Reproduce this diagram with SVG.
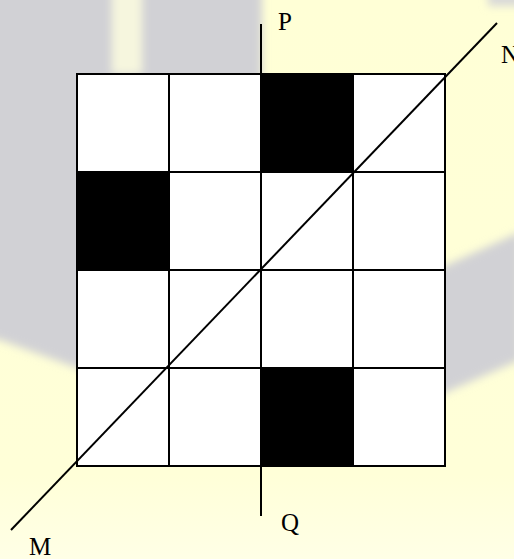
<svg xmlns="http://www.w3.org/2000/svg" width="514" height="559" viewBox="0 0 514 559">
  <defs>
    <style>
      .cell { fill: #ffffff; stroke: #000000; stroke-width: 2; }
      .dark { fill: #000000; stroke: #000000; stroke-width: 2; }
      .ln { stroke: #000000; stroke-width: 2; fill: none; }
      .lbl { font-family: "Liberation Serif", "Times New Roman", serif; font-size: 25px; fill: #000000; }
    </style>
    <filter id="soft" x="-10%" y="-10%" width="120%" height="120%">
      <feGaussianBlur stdDeviation="4"/>
    </filter>
    <linearGradient id="bg" x1="0" y1="0" x2="0" y2="1">
      <stop offset="0" stop-color="#ffffd6"/>
      <stop offset="0.85" stop-color="#ffffd8"/>
      <stop offset="1" stop-color="#ffffe6"/>
    </linearGradient>
  </defs>

  <!-- background -->
  <rect x="0" y="0" width="514" height="559" fill="url(#bg)"/>
  <g id="watermark" filter="url(#soft)">
    <path d="M-10,-10 L262,-10 L262,80 L300,200 L360,230 L440,268 L520,232 L520,360 L447,392 L380,420 L260,430 L150,400 L77,368 L0,340 L-10,338 Z" fill="#d1d1d5"/>
    <rect x="112" y="-10" width="30" height="84" fill="#f6f6de"/>
    <rect x="488" y="-10" width="40" height="16" fill="#d8d8d8"/>
  </g>

  <!-- grid -->
  <g id="grid">
    <rect class="cell" x="77" y="74" width="92" height="98"/>
    <rect class="cell" x="169" y="74" width="92" height="98"/>
    <rect class="dark" x="261" y="74" width="92" height="98"/>
    <rect class="cell" x="353" y="74" width="92" height="98"/>

    <rect class="dark" x="77" y="172" width="92" height="98"/>
    <rect class="cell" x="169" y="172" width="92" height="98"/>
    <rect class="cell" x="261" y="172" width="92" height="98"/>
    <rect class="cell" x="353" y="172" width="92" height="98"/>

    <rect class="cell" x="77" y="270" width="92" height="98"/>
    <rect class="cell" x="169" y="270" width="92" height="98"/>
    <rect class="cell" x="261" y="270" width="92" height="98"/>
    <rect class="cell" x="353" y="270" width="92" height="98"/>

    <rect class="cell" x="77" y="368" width="92" height="98"/>
    <rect class="cell" x="169" y="368" width="92" height="98"/>
    <rect class="dark" x="261" y="368" width="92" height="98"/>
    <rect class="cell" x="353" y="368" width="92" height="98"/>
  </g>

  <!-- axes -->
  <g id="connectors">
    <line class="ln" x1="261" y1="24" x2="261" y2="74"/>
    <line class="ln" x1="261" y1="466" x2="261" y2="516"/>
    <line class="ln" x1="11" y1="530" x2="497" y2="23" stroke-width="1.8"/>
  </g>

  <!-- labels -->
  <g id="labels">
    <text class="lbl" x="278" y="30">P</text>
    <text class="lbl" x="501" y="63">N</text>
    <text class="lbl" x="281" y="531">Q</text>
    <text class="lbl" x="29" y="555">M</text>
  </g>
</svg>
